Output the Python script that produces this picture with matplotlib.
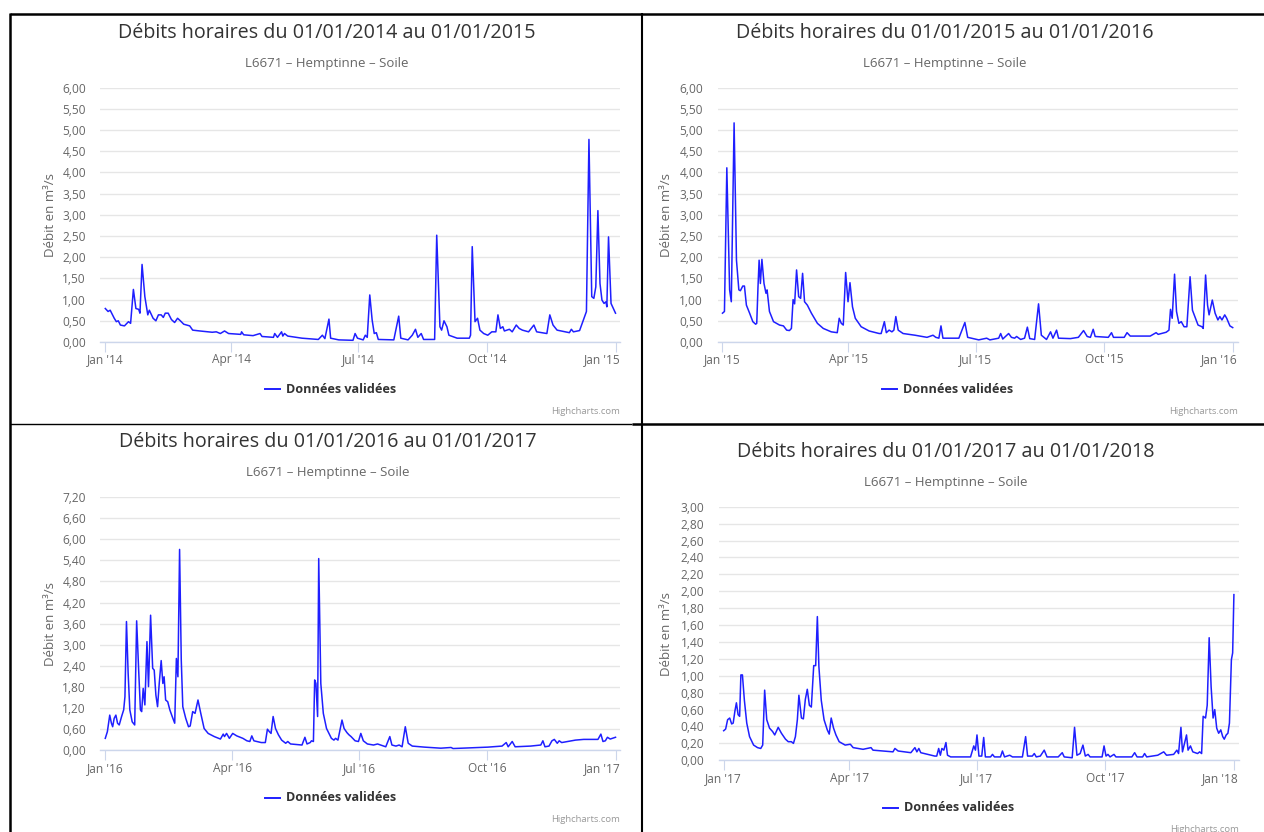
import numpy as np
import pandas as pd
import matplotlib.pyplot as plt
import matplotlib.dates as mdates
from matplotlib.ticker import MultipleLocator, FuncFormatter
from matplotlib.transforms import ScaledTranslation

plt.rcParams['font.family'] = ['Open Sans', 'DejaVu Sans']

W, H = 1264, 832

# ---------------------------------------------------------------------------
# Data (day offset from 1 January, flow in m3/s)
# ---------------------------------------------------------------------------

days_2014 = [0, 2.0, 3.5, 6.4, 7.9, 9.3, 10.8, 13.7, 16.6, 18.1, 20.1, 21.9, 23.9, 24.8, 26.3, 28.3,
             30.4, 31.5, 34.2, 36.2, 38.0, 40.0, 41.5, 42.9, 45.0, 47.3, 49.6, 51.7, 53.7, 56.1,
             58.4, 60.4, 62.5, 67.7, 76.5, 79.4, 82.3, 85.3, 88.2, 96.9, 97.5, 99.0, 105.7, 110.7,
             112.1, 120.3, 121.2, 123.2, 126.1, 127.0, 128.2, 130.5, 140.7, 152.4, 155.3, 157.1,
             160.0, 161.2, 167.0, 177.2, 178.7, 180.4, 184.5, 186.0, 187.4, 189.2, 190.9, 192.4,
             193.9, 195.3, 206.4, 209.9, 211.4, 216.6, 219.6, 221.9, 223.6, 226.0, 227.7, 235.6,
             237.1, 239.4, 240.6, 242.3, 244.4, 245.8, 251.7, 260.4, 261.3, 262.5, 264.5, 266.3,
             268.0, 270.7, 273.6, 276.5, 279.4, 280.9, 282.6, 284.4, 285.5, 289.1, 291.1, 294.0,
             296.1, 298.4, 302.8, 306.6, 308.6, 315.9, 318.0, 320.3, 323.2, 332.0, 333.4, 334.9,
             339.3, 341.6, 343.7, 344.2, 346.0, 348.0, 349.5, 350.9, 352.4, 353.9, 355.3, 356.8,
             358.2, 358.8, 360.0, 361.8, 365.0]
flow_2014 = [0.79, 0.72, 0.75, 0.56, 0.48, 0.50, 0.40, 0.38, 0.48, 0.44, 1.24, 0.79, 0.77, 0.68, 1.83, 1.07,
             0.64, 0.75, 0.56, 0.50, 0.64, 0.64, 0.58, 0.68, 0.68, 0.53, 0.46, 0.56, 0.50, 0.42,
             0.40, 0.38, 0.28, 0.26, 0.23, 0.24, 0.20, 0.26, 0.20, 0.18, 0.24, 0.17, 0.15, 0.20,
             0.13, 0.11, 0.20, 0.11, 0.24, 0.14, 0.20, 0.14, 0.09, 0.06, 0.16, 0.08,
             0.54, 0.09, 0.05, 0.04, 0.20, 0.09, 0.05, 0.16, 0.11, 1.11, 0.52, 0.20,
             0.22, 0.06, 0.05, 0.61, 0.09, 0.05, 0.16, 0.30, 0.11, 0.20, 0.06, 0.06,
             2.52, 0.36, 0.28, 0.50, 0.36, 0.16, 0.09, 0.09, 0.16, 2.25, 0.48, 0.56,
             0.28, 0.20, 0.16, 0.24, 0.24, 0.64, 0.32, 0.36, 0.26, 0.30, 0.24, 0.40,
             0.32, 0.28, 0.24, 0.40, 0.24, 0.20, 0.64, 0.40, 0.28, 0.22, 0.30, 0.24,
             0.27, 0.48, 0.68, 0.72, 4.78, 1.07, 1.03, 1.30, 3.10, 1.38, 0.99, 0.91,
             0.95, 0.83, 2.48, 0.91, 0.68]

days_2015 = [0, 1.4, 3.1, 5.1, 6.3, 8.3, 10.0, 11.7, 12.8, 14.5, 15.7, 17.1, 19.4, 21.7, 23.7, 24.5,
             25.4, 26.2, 27.1, 28.2, 29.7, 31.1, 31.9, 33.6, 36.5, 40.8, 43.6, 45.9, 47.9, 49.3,
             50.5, 51.6, 53.0, 54.5, 55.9, 57.3, 58.7, 60.7, 63.6, 67.9, 72.1, 77.8, 82.1, 83.5,
             85.0, 86.4, 88.1, 89.8, 91.2, 93.0, 95.0, 99.2, 104.9, 112.1, 113.5, 115.8, 117.2,
             119.2, 121.2, 122.6, 124.0, 125.7, 129.2, 137.7, 146.3, 150.6, 152.6, 154.8, 156.3,
             157.7, 169.1, 173.4, 175.4, 183.3, 189.0, 191.3, 197.6, 199.0, 200.5, 204.7, 206.7,
             209.0, 210.4, 213.3, 216.1, 218.1, 219.8, 223.3, 226.1, 228.1, 231.8, 234.7, 236.4,
             239.0, 240.4, 248.9, 254.6, 258.3, 260.9, 263.2, 265.2, 266.6, 276.0, 278.3, 279.7,
             287.4, 289.4, 291.7, 306.0, 310.2, 311.7, 317.4, 319.4, 320.5, 321.7, 323.4, 324.8,
             326.5, 328.2, 330.2, 332.2, 334.5, 336.2, 337.9, 340.2, 343.0, 343.9, 345.6, 347.0,
             348.1, 350.4, 352.4, 354.4, 355.8, 357.3, 359.3, 360.7, 363.0, 365.0]
flow_2015 = [0.68, 0.72, 4.11, 1.23, 0.95, 5.17, 1.93, 1.23, 1.21, 1.32, 1.32, 0.87, 0.68, 0.48, 0.42, 0.44,
             1.30, 1.93, 1.38, 1.95, 1.38, 1.15, 1.23, 0.72, 0.48, 0.40, 0.38, 0.28, 0.27, 0.32,
             1.00, 0.90, 1.70, 1.07, 1.03, 1.62, 0.95, 0.87, 0.68, 0.44, 0.32, 0.24, 0.22, 0.56,
             0.44, 0.40, 1.64, 0.95, 1.40, 0.83, 0.56, 0.36, 0.26, 0.20, 0.20, 0.48, 0.22,
             0.28, 0.24, 0.28, 0.60, 0.28, 0.20, 0.16, 0.11, 0.16, 0.11, 0.09, 0.38,
             0.09, 0.09, 0.46, 0.11, 0.05, 0.09, 0.05, 0.09, 0.20, 0.07, 0.20, 0.11,
             0.09, 0.13, 0.06, 0.09, 0.35, 0.08, 0.06, 0.90, 0.16, 0.06, 0.24, 0.09,
             0.28, 0.09, 0.08, 0.11, 0.27, 0.13, 0.11, 0.30, 0.13, 0.11, 0.22, 0.11,
             0.11, 0.22, 0.14, 0.14, 0.22, 0.18, 0.23, 0.28, 0.77, 0.56, 1.60, 0.72,
             0.44, 0.48, 0.36, 0.36, 1.54, 0.75, 0.60, 0.40, 0.36, 0.32, 1.58, 0.87,
             0.64, 0.99, 0.68, 0.52, 0.60, 0.52, 0.64, 0.56, 0.38, 0.34]

days_2016 = [0, 1.5, 3.2, 4.4, 5.3, 6.4, 7.6, 8.8, 10.0, 11.7, 13.2, 14.1, 15.2, 16.4, 17.6, 19.3,
             21.1, 22.5, 24.0, 25.2, 26.1, 27.2, 28.4, 29.9, 31.0, 32.5, 34.0, 35.1, 36.3, 37.5,
             38.7, 40.1, 41.3, 42.2, 43.3, 44.8, 46.3, 48.0, 49.8, 51.0, 52.1, 53.3, 54.5, 55.6,
             57.7, 59.7, 60.9, 62.7, 64.4, 66.5, 68.5, 70.9, 73.8, 78.2, 82.6, 84.6, 85.5, 87.0,
             89.0, 91.4, 94.3, 98.7, 101.6, 103.7, 105.1, 106.6, 111.9, 114.8, 116.3, 117.7,
             118.9, 120.4, 122.1, 124.2, 126.5, 129.4, 130.9, 132.9, 141.1, 143.2, 144.7, 147.0,
             147.9, 149.3, 150.2, 151.1, 152.3, 153.1, 154.6, 156.4, 158.7, 162.2, 164.0, 165.2,
             166.9, 169.8, 171.3, 173.4, 174.8, 176.3, 179.2, 181.6, 183.3, 185.1, 188.0, 192.4,
             195.3, 201.2, 204.1, 205.6, 208.5, 210.8, 212.9, 215.2, 217.3, 220.2, 229.0, 240.7,
             248.0, 249.5, 261.2, 274.4, 284.6, 287.6, 289.0, 291.9, 294.0, 305.1, 312.4, 313.9,
             315.4, 318.3, 320.4, 322.1, 324.2, 325.6, 327.4, 331.5, 337.3, 343.2, 353.4, 355.5,
             357.0, 358.7, 360.2, 362.2, 366.0]
flow_2016 = [0.34, 0.53, 1.00, 0.77, 0.67, 0.91, 1.00, 0.77, 0.72, 0.96, 1.15, 1.52, 3.66, 2.19, 1.15, 0.81,
             0.72, 3.68, 2.23, 1.15, 1.10, 1.76, 1.29, 3.09, 1.81, 3.84, 2.33, 2.28, 1.57, 1.24,
             1.90, 2.55, 1.90, 2.09, 1.43, 1.38, 1.15, 0.96, 0.77, 2.61, 2.09, 5.71, 2.57, 1.24,
             0.91, 0.67, 0.69, 1.10, 1.05, 1.43, 1.05, 0.62, 0.48, 0.39, 0.32, 0.46, 0.39, 0.48,
             0.34, 0.48, 0.41, 0.34, 0.27, 0.25, 0.41, 0.27, 0.22, 0.22, 0.60, 0.53,
             0.48, 0.96, 0.62, 0.44, 0.29, 0.20, 0.25, 0.18, 0.15, 0.37, 0.18, 0.22,
             0.27, 0.25, 2.00, 1.90, 0.96, 5.45, 1.90, 1.05, 0.62, 0.34, 0.29, 0.34,
             0.29, 0.86, 0.62, 0.50, 0.44, 0.39, 0.27, 0.25, 0.48, 0.27, 0.18, 0.15,
             0.18, 0.10, 0.39, 0.15, 0.12, 0.15, 0.10, 0.67, 0.20, 0.12, 0.09, 0.06,
             0.08, 0.05, 0.07, 0.09, 0.12, 0.22, 0.10, 0.25, 0.10, 0.12, 0.15, 0.27,
             0.10, 0.12, 0.27, 0.31, 0.20, 0.27, 0.22, 0.25, 0.29, 0.31, 0.31, 0.46,
             0.25, 0.27, 0.37, 0.32, 0.37]

days_2017 = [0, 1.4, 2.8, 4.3, 5.7, 6.8, 8.0, 9.1, 10.3, 11.4, 12.3, 13.4, 14.8, 16.5, 18.5, 21.4,
             24.2, 26.5, 27.9, 29.3, 30.8, 32.8, 35.0, 36.5, 39.0, 41.3, 44.2, 46.2, 48.4, 49.9,
             51.3, 52.7, 53.8, 55.6, 57.0, 58.4, 59.8, 61.3, 62.7, 64.4, 65.8, 67.0, 68.1, 69.8,
             71.8, 74.1, 75.5, 76.9, 78.6, 80.3, 82.6, 86.9, 90.6, 92.6, 99.7, 105.4, 106.8, 121.1,
             122.5, 124.8, 133.9, 136.8, 138.2, 139.6, 141.0, 151.0, 152.4, 153.8, 155.0, 156.1,
             157.5, 159.0, 160.1, 162.4, 176.6, 178.9, 180.1, 181.2, 182.6, 184.6, 186.0, 187.2,
             190.9, 192.3, 193.7, 198.0, 199.4, 200.9, 204.6, 206.6, 213.7, 216.0, 217.4, 220.8,
             222.2, 223.6, 226.5, 229.3, 231.3, 239.3, 242.2, 243.6, 249.3, 251.0, 252.7, 255.0,
             257.0, 258.7, 260.7, 262.1, 270.7, 272.1, 273.5, 274.9, 276.4, 279.2, 280.6, 292.0,
             294.0, 295.7, 299.7, 301.1, 302.6, 310.5, 314.8, 316.8, 321.9, 324.2, 325.4, 327.1,
             328.2, 329.9, 331.1, 332.2, 333.9, 335.6, 339.0, 340.5, 341.9, 343.0, 344.7, 345.9,
             347.3, 348.7, 350.1, 351.3, 352.7, 354.1, 355.6, 357.0, 358.1, 359.5, 360.7, 361.8,
             363.2, 364.1, 365.0]
flow_2017 = [0.35, 0.37, 0.48, 0.50, 0.43, 0.44, 0.58, 0.68, 0.54, 0.52, 1.01, 1.01, 0.71, 0.44, 0.28, 0.18,
             0.15, 0.14, 0.18, 0.83, 0.48, 0.38, 0.34, 0.30, 0.39, 0.32, 0.25, 0.22, 0.22, 0.20,
             0.28, 0.48, 0.77, 0.50, 0.49, 0.72, 0.84, 0.65, 0.63, 1.12, 1.12, 1.70, 1.11, 0.71,
             0.48, 0.36, 0.31, 0.50, 0.38, 0.30, 0.22, 0.18, 0.19, 0.15, 0.13, 0.15, 0.12, 0.10,
             0.14, 0.11, 0.09, 0.15, 0.10, 0.14, 0.09, 0.05, 0.05, 0.14, 0.06, 0.14,
             0.12, 0.21, 0.06, 0.04, 0.04, 0.17, 0.12, 0.30, 0.05, 0.05, 0.27, 0.04,
             0.04, 0.07, 0.04, 0.04, 0.11, 0.04, 0.06, 0.04, 0.04, 0.28, 0.05, 0.05,
             0.08, 0.04, 0.05, 0.12, 0.04, 0.04, 0.09, 0.04, 0.03, 0.39, 0.06, 0.08,
             0.18, 0.05, 0.07, 0.04, 0.04, 0.17, 0.05, 0.07, 0.04, 0.07, 0.04, 0.04,
             0.09, 0.04, 0.04, 0.08, 0.04, 0.06, 0.10, 0.06, 0.07, 0.12, 0.08, 0.39,
             0.10, 0.22, 0.30, 0.12, 0.17, 0.10, 0.08, 0.10, 0.08, 0.52, 0.50, 0.65,
             1.45, 0.87, 0.50, 0.60, 0.38, 0.32, 0.36, 0.28, 0.25, 0.30, 0.32, 0.44,
             1.19, 1.27, 1.96]

years = [2014, 2015, 2016, 2017]
series_days = [days_2014, days_2015, days_2016, days_2017]
series_flow = [flow_2014, flow_2015, flow_2016, flow_2017]
y_max = [6.0, 6.0, 7.2, 3.0]
y_step = [0.5, 0.5, 0.6, 0.2]

station = "L6671 \u2013 Hemptinne \u2013 Soile"
series_name = "Donn\u00e9es valid\u00e9es"

# ---------------------------------------------------------------------------
# Layout (pixel boxes of each screenshot panel)
# ---------------------------------------------------------------------------

# plot box: x0, y0 (top), x1, y1 (bottom)
plot_box = [(100.4, 87.7, 620.4, 342.0),
            (717.6, 87.7, 1237.6, 342.0),
            (100.4, 497.0, 620.4, 750.3),
            (718.8, 506.7, 1238.8, 760.3)]
title_pos = [(327, 33, 63.3), (945, 33, 63.3), (328, 442, 472.3), (946, 452, 482.3)]
ylabel_x = [50, 667, 50, 667]
legend_pos = [(264.5, 389.3), (882.0, 389.3), (264.5, 797.7), (882.7, 807.7)]
credit_pos = [(620, 411.7), (1237.7, 412), (620, 819.3), (1239, 829.3)]

BLUE = "#1f1fff"

fig = plt.figure(figsize=(W / 100, H / 100), dpi=100)
bg = fig.add_axes([0, 0, 1, 1])
bg.set_xlim(0, W)
bg.set_ylim(H, 0)
bg.axis("off")

comma = FuncFormatter(lambda v, p: f"{v:.2f}".replace(".", ","))

for i, yr in enumerate(years):
    x0, y0, x1, y1 = plot_box[i]
    ax = fig.add_axes([x0 / W, 1 - y1 / H, (x1 - x0) / W, (y1 - y0) / H])
    start = pd.Timestamp(f"{yr}-01-01")
    end = pd.Timestamp(f"{yr + 1}-01-01")
    t = start + pd.to_timedelta(np.array(series_days[i]), unit="D")
    ax.plot(t, series_flow[i], color=BLUE, lw=1.1, solid_joinstyle="round")

    ax.set_xlim(start - pd.Timedelta(days=3.5), end + pd.Timedelta(days=3.5))
    ax.set_ylim(0, y_max[i])
    ax.yaxis.set_major_locator(MultipleLocator(y_step[i]))
    ax.yaxis.set_major_formatter(comma)
    ticks = [start, pd.Timestamp(f"{yr}-04-01"), pd.Timestamp(f"{yr}-07-01"),
             pd.Timestamp(f"{yr}-10-01"), end]
    ax.set_xticks(ticks)
    ax.xaxis.set_major_formatter(mdates.DateFormatter("%b '%y"))

    ax.set_facecolor("none")
    for s in ["top", "right", "left"]:
        ax.spines[s].set_visible(False)
    ax.spines["bottom"].set_color("#ccd6eb")
    ax.spines["bottom"].set_linewidth(1.0)
    ax.grid(axis="y", color="#e6e6e6", lw=1.0)
    ax.set_axisbelow(True)
    ax.tick_params(axis="y", length=0, pad=10.4, labelsize=8.6, labelcolor="#666666")
    ax.tick_params(axis="x", length=7.2, width=0.8, color="#ccd6eb", direction="out",
                   pad=1.0, labelsize=8.6, labelcolor="#666666")
    lbls = ax.get_xticklabels()
    lbls[-1].set_ha("right")
    lbls[-1].set_transform(lbls[-1].get_transform() +
                           ScaledTranslation(5 / 100, 0, fig.dpi_scale_trans))

    tx, ty, sy = title_pos[i]
    bg.text(tx, ty, f"D\u00e9bits horaires du 01/01/{yr} au 01/01/{yr + 1}",
            ha="center", va="center", fontsize=14.2, color="#333333")
    bg.text(tx, sy, station, ha="center", va="center", fontsize=9.5, color="#666666")
    bg.text(ylabel_x[i], (y0 + y1) / 2, "D\u00e9bit en m\u00b3/s", rotation=90,
            ha="center", va="center", fontsize=9.5, color="#666666")

    lx, ly = legend_pos[i]
    bg.plot([lx, lx + 15], [ly, ly], color=BLUE, lw=1.4)
    bg.text(lx + 21, ly, series_name, ha="left", va="center", fontsize=9.1,
            fontweight="bold", color="#333333")

    cx, cy = credit_pos[i]
    bg.text(cx, cy, "Highcharts.com", ha="right", va="center", fontsize=6.8, color="#999999")

# black frame lines of the pasted screenshots
bg.plot([10, W], [14, 14], color="black", lw=1.8, solid_capstyle="butt")
bg.plot([10, 10], [13, H], color="black", lw=1.8, solid_capstyle="butt")
bg.plot([642, 642], [13, H], color="black", lw=1.5, solid_capstyle="butt")
bg.plot([10, 632], [423.5, 423.5], color="black", lw=1.0, solid_capstyle="butt")
bg.plot([632, W], [424, 424], color="black", lw=1.8, solid_capstyle="butt")

fig.savefig("out.png", dpi=100, facecolor="white")
